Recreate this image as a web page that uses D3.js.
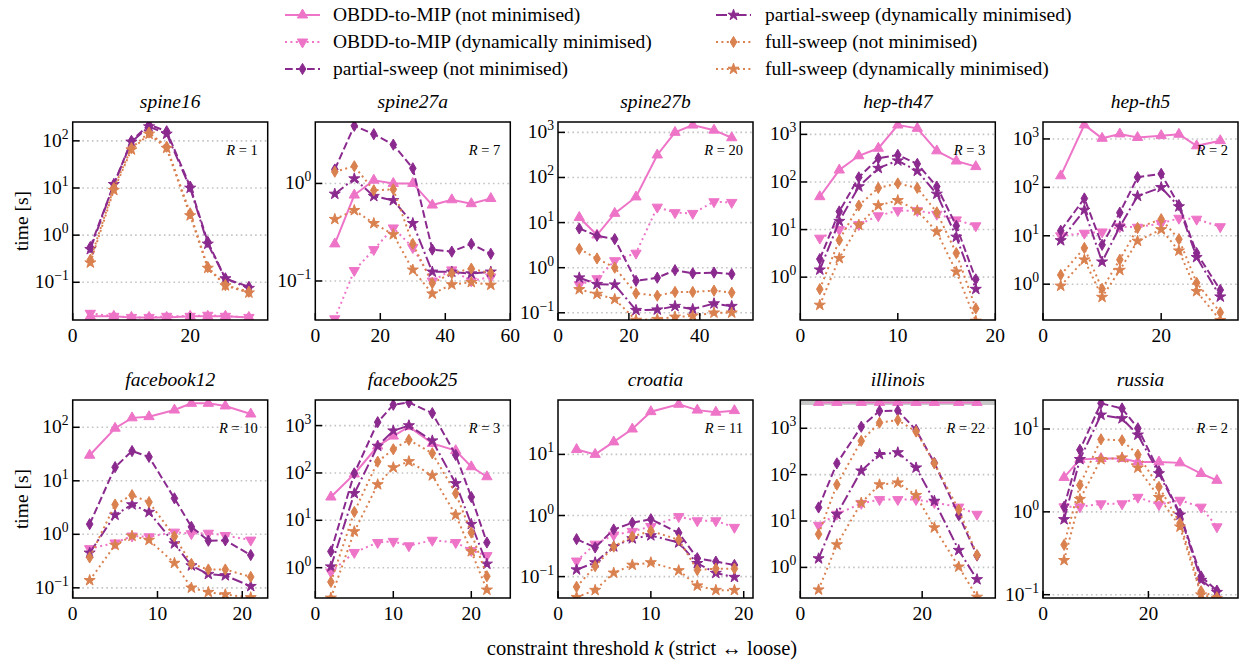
<!DOCTYPE html>
<html>
<head>
<meta charset="utf-8">
<script src="https://cdnjs.cloudflare.com/ajax/libs/d3/7.8.5/d3.min.js"></script>
<style>
  body { margin: 0; background: #fff; }
  svg text { font-family: "Liberation Serif", "DejaVu Serif", serif; fill: #000; }
</style>
</head>
<body>
<svg id="chart" width="1244" height="663"></svg>
<script>
// --- data ---------------------------------------------------------------
const instances = ['spine16', 'spine27a', 'spine27b', 'hep-th47', 'hep-th5',
                   'facebook12', 'facebook25', 'croatia', 'illinois', 'russia']
const rValues = [1, 7, 20, 3, 2, 10, 3, 11, 22, 2]
const kValues = [
  [3, 7, 10, 13, 16, 20, 23, 26, 30],
  [6, 12, 18, 24, 30, 36, 42, 48, 54],
  [6, 11, 16, 22, 28, 33, 38, 44, 49],
  [2, 4, 6, 8, 10, 12, 14, 16, 18],
  [3, 7, 10, 13, 16, 20, 23, 26, 30],
  [2, 5, 7, 9, 12, 14, 16, 18, 21],
  [2, 5, 8, 10, 12, 15, 18, 20, 22],
  [2, 4, 6, 8, 10, 13, 15, 17, 19],
  [3, 6, 10, 13, 16, 19, 22, 26, 29],
  [4, 7, 11, 15, 18, 22, 26, 30, 33]]
const xMax = [33.2, 60, 55, 20, 33, 23, 25, 21, 32, 37]
const xTicks = [[0, 20], [0, 20, 40, 60], [0, 20, 40], [0, 10, 20], [0, 20],
                [0, 10, 20], [0, 10, 20], [0, 10, 20], [0, 20], [0, 20]]
// log10 of the y limits
const yLimits = [[-1.8, 2.4], [-1.4, 0.63], [-1.16, 3.23], [-0.9, 3.26], [-0.74, 3.35],
                 [-1.19, 2.51], [-0.64, 3.54], [-1.35, 1.89], [-0.66, 3.61], [-1.04, 1.35]]
const timeout = 3600

const obddNot = [
  [0.019, 0.019, 0.018, 0.018, 0.018, 0.019, 0.019, 0.019, 0.018],
  [0.24, 0.76, 1.08, 1.0, 1.0, 0.6, 0.68, 0.62, 0.70],
  [13, 5.3, 16, 37, 315, 1000, 1450, 1120, 760],
  [49, 178, 355, 510, 1570, 1340, 450, 275, 210],
  [173, 1950, 1030, 1270, 1070, 1170, 1250, 720, 920],
  [30, 96, 150, 158, 210, 280, 280, 250, 177],
  [31, 95, 370, 600, 950, 420, 296, 135, 83],
  [12, 10, 16, 26, 50, 66, 53, 49, 52],
  [3600, 3600, 3600, 3600, 3600, 3600, 3600, 3600, 3600],
  [2.6, 4.3, 4.4, 4.4, 4.0, 4.0, 3.9, 2.9, 2.4]]
const obddDyn = [
  [0.022, 0.019, 0.018, 0.018, 0.019, 0.019, 0.02, 0.019, 0.018],
  [0.041, 0.128, 0.21, 0.35, 0.22, 0.1, 0.13, 0.1, 0.11],
  [0.42, 0.57, 1.43, 2.1, 22, 16.6, 16, 29, 28],
  [6.6, 10, 12.7, 19.5, 25, 25, 21, 16, 12],
  [10, 11.3, 12, 15.4, 15, 18, 23, 22, 15.4],
  [0.54, 0.69, 0.93, 0.9, 1.1, 1.03, 1.05, 0.95, 0.78],
  [0.81, 2.1, 3.4, 3.6, 2.9, 3.8, 3.4, 2.3, 1.8],
  [0.18, 0.34, 0.48, 0.55, 0.66, 0.96, 0.82, 0.82, 0.64],
  [8.1, 14, 24, 29, 29, 29, 25, 20, 14],
  [1.15, 1.15, 1.25, 1.25, 1.5, 1.22, 1.38, 1.14, 0.66]]
const partialNot = [
  [0.56, 12, 100, 220, 160, 10.7, 0.72, 0.12, 0.08],
  [1.39, 3.9, 3.2, 2.5, 1.43, 0.21, 0.2, 0.24, 0.19],
  [7.4, 5.1, 4.3, 0.51, 0.6, 0.88, 0.75, 0.78, 0.72],
  [2.4, 24, 125, 315, 370, 240, 80, 12, 0.9],
  [12.7, 59, 6.5, 30, 162, 190, 43, 4.4, 0.76],
  [1.55, 18, 36, 28, 4.7, 1.38, 0.76, 0.77, 0.41],
  [2.2, 98, 1180, 2750, 3080, 1830, 240, 31, 3.4],
  [0.41, 0.3, 0.59, 0.76, 0.87, 0.52, 0.2, 0.176, 0.155],
  [19.6, 175, 1080, 2360, 2400, 920, 180, 13.4, 1.8],
  [1.15, 5.6, 20.4, 17.7, 10.2, 3.1, 0.95, 0.166, 0.112]]
const partialDyn = [
  [0.5, 12, 95, 200, 140, 10, 0.65, 0.12, 0.075],
  [0.78, 1.12, 0.74, 0.67, 0.39, 0.124, 0.124, 0.119, 0.124],
  [0.6, 0.43, 0.42, 0.114, 0.117, 0.14, 0.12, 0.16, 0.14],
  [1.43, 15, 80, 195, 280, 170, 56, 7, 0.56],
  [8, 34, 2.9, 15.4, 66, 100, 40, 3.6, 0.55],
  [0.45, 2.3, 3.6, 2.6, 0.67, 0.26, 0.18, 0.17, 0.107],
  [1.05, 37, 370, 780, 1000, 480, 60, 8.3, 1.2],
  [0.13, 0.17, 0.31, 0.42, 0.47, 0.36, 0.165, 0.114, 0.098],
  [1.55, 14, 121, 275, 300, 141, 27, 2.35, 0.55],
  [0.81, 4.3, 14.8, 13.4, 8.5, 2.9, 0.92, 0.15, 0.107]]
const fullNot = [
  [0.3, 10, 70, 150, 75, 2.9, 0.21, 0.087, 0.063],
  [1.32, 1.5, 0.85, 0.87, 0.24, 0.095, 0.12, 0.134, 0.12],
  [2.6, 1.6, 1.0, 0.27, 0.24, 0.29, 0.29, 0.31, 0.28],
  [0.56, 6, 32, 75, 93, 75, 23, 3.2, 0.22],
  [1.55, 5.6, 0.8, 3.2, 14.5, 22, 8.5, 1.07, 0.26],
  [0.37, 3.6, 5.4, 4.0, 0.91, 0.28, 0.22, 0.22, 0.16],
  [0.5, 15, 173, 316, 500, 260, 37, 5.5, 0.66],
  [0.068, 0.148, 0.31, 0.45, 0.56, 0.4, 0.128, 0.135, 0.135],
  [5.2, 61, 535, 1320, 1500, 850, 175, 17.5, 1.85],
  [0.4, 2.1, 7.5, 7.3, 4.9, 2.0, 0.73, 0.11, 0.093]]
const fullDyn = [
  [0.26, 9, 65, 140, 70, 2.6, 0.2, 0.085, 0.06],
  [0.43, 0.53, 0.39, 0.3, 0.13, 0.074, 0.092, 0.097, 0.091],
  [0.33, 0.26, 0.2, 0.069, 0.072, 0.081, 0.085, 0.1, 0.1],
  [0.26, 2.5, 12.5, 32, 41, 25, 9, 1.3, 0.12],
  [0.92, 3.2, 0.54, 1.95, 7.8, 13.5, 4.9, 0.71, 0.18],
  [0.138, 0.63, 0.93, 0.78, 0.29, 0.1, 0.083, 0.075, 0.066],
  [0.23, 5.8, 57, 130, 175, 88, 13, 2.2, 0.34],
  [0.046, 0.06, 0.115, 0.155, 0.17, 0.126, 0.071, 0.06, 0.06],
  [0.33, 3.1, 24.6, 61, 67, 36, 7.2, 1.03, 0.23],
  [0.26, 1.42, 4.3, 4.5, 3.4, 1.5, 0.66, 0.1, 0.09]]

// --- styling ----------------------------------------------------------------
const pink = '#ee74c8', purple = '#8b2a8e', orange = '#da8150'
const dotted = '2,3.4', dashed = '7.7,3.3', dashdot = '11,3.3,2,3.3'
const series = [
  { label: 'OBDD-to-MIP (not minimised)',           values: obddNot,    color: pink,   dash: null,    marker: 'up' },
  { label: 'OBDD-to-MIP (dynamically minimised)',   values: obddDyn,    color: pink,   dash: dotted,  marker: 'down' },
  { label: 'partial-sweep (not minimised)',         values: partialNot, color: purple, dash: dashed,  marker: 'diamond' },
  { label: 'partial-sweep (dynamically minimised)', values: partialDyn, color: purple, dash: dashdot, marker: 'star' },
  { label: 'full-sweep (not minimised)',            values: fullNot,    color: orange, dash: dotted,  marker: 'diamond' },
  { label: 'full-sweep (dynamically minimised)',    values: fullDyn,    color: orange, dash: dotted,  marker: 'star' }]

const colX = [72.7, 315.3, 558, 800.3, 1043], rowY = [122, 400], pw = 195, ph = 198
const fs = 19.5

const svg = d3.select('#chart')

function _markerPath(kind) {
  if (kind === 'up' || kind === 'down') return d3.symbol(d3.symbolTriangle, 46)()
  if (kind === 'diamond') return 'M0,-5.6L3.3,0L0,5.6L-3.3,0Z'
  return d3.symbol(d3.symbolStar, 38)()
}

function _drawMarker(sel, s, px, py) {
  sel.append('path')
    .attr('d', _markerPath(s.marker))
    .attr('transform', `translate(${px},${py})` + (s.marker === 'down' ? ' rotate(180)' : ''))
    .attr('fill', s.color)
    .attr('stroke', s.color)
    .attr('stroke-width', 1)
    .attr('stroke-linejoin', 'round')
}

function _pow10(t, e) {
  t.append('tspan').text('10')
  t.append('tspan').attr('dy', -8).attr('font-size', fs * 0.7)
    .text(e < 0 ? '\u2212' + (-e) : '' + e)
}

function _panel(i) {
  let x0 = colX[i % 5], y0 = rowY[Math.floor(i / 5)],
      g  = svg.append('g').attr('transform', `translate(${x0},${y0})`),
      x  = d3.scaleLinear().domain([0, xMax[i]]).range([0, pw]),
      y  = d3.scaleLog().domain(yLimits[i].map(e => Math.pow(10, e))).range([ph, 0]),
      decades = d3.range(Math.ceil(yLimits[i][0]), Math.floor(yLimits[i][1]) + 1)

  // grid
  g.selectAll('line.grid')
    .data(decades)
    .enter()
    .append('line')
    .attr('class', 'grid')
    .attr('x1', 0).attr('x2', pw)
    .attr('y1', e => y(Math.pow(10, e))).attr('y2', e => y(Math.pow(10, e)))
    .attr('stroke', '#c4c4c4').attr('stroke-width', 1.6).attr('stroke-dasharray', '1.6,3.2')

  g.append('clipPath').attr('id', 'clip' + i)
    .append('rect').attr('width', pw).attr('height', ph)
  let plot = g.append('g').attr('clip-path', `url(#clip${i})`)

  // timeout band, only visible where the axis reaches 3600 s
  if (Math.log10(timeout) < yLimits[i][1])
    plot.append('line')
      .attr('x1', 0).attr('x2', pw)
      .attr('y1', y(timeout)).attr('y2', y(timeout))
      .attr('stroke', '#c8c8c8').attr('stroke-width', 5)

  series.forEach(s => {
    let pts = kValues[i].map((k, n) => [k, s.values[i][n]])
    plot.append('path')
      .datum(pts)
      .attr('d', d3.line().x(d => x(d[0])).y(d => y(d[1])))
      .attr('fill', 'none')
      .attr('stroke', s.color)
      .attr('stroke-width', 2)
      .attr('stroke-dasharray', s.dash)
    pts.forEach(d => _drawMarker(plot, s, x(d[0]), y(d[1])))
  })

  // frame
  g.append('rect')
    .attr('width', pw).attr('height', ph)
    .attr('fill', 'none').attr('stroke', '#000').attr('stroke-width', 1.5)

  // y ticks
  decades.forEach(e => {
    let py = y(Math.pow(10, e))
    g.append('line').attr('x1', 0).attr('x2', 7).attr('y1', py).attr('y2', py)
      .attr('stroke', '#000').attr('stroke-width', 1.5)
    let t = g.append('text').attr('x', -4).attr('y', py + 6)
      .attr('text-anchor', 'end').attr('font-size', fs)
    _pow10(t, e)
  })

  // x ticks
  xTicks[i].forEach(v => {
    let px = x(v)
    g.append('line').attr('x1', px).attr('x2', px).attr('y1', ph).attr('y2', ph - 7)
      .attr('stroke', '#000').attr('stroke-width', 1.5)
    g.append('text').attr('x', px).attr('y', ph + 22)
      .attr('text-anchor', 'middle').attr('font-size', fs).text(v)
  })

  // title and R annotation
  g.append('text').attr('x', pw / 2).attr('y', -14)
    .attr('text-anchor', 'middle').attr('font-size', fs).attr('font-style', 'italic')
    .text(instances[i])
  let r = g.append('text').attr('x', pw - 10).attr('y', 33)
    .attr('text-anchor', 'end').attr('font-size', 14.5)
  r.append('tspan').attr('font-style', 'italic').text('R')
  r.append('tspan').text(' = ' + rValues[i])

  if (i % 5 === 0)
    svg.append('text')
      .attr('transform', `translate(28,${y0 + ph / 2}) rotate(-90)`)
      .attr('text-anchor', 'middle').attr('font-size', fs)
      .text('time [s]')
}

function _legend() {
  let cols = [{ hx: 285, tx: 333 }, { hx: 716, tx: 765 }],
      rows = [15, 42, 69]
  series.forEach((s, j) => {
    let c = cols[Math.floor(j / 3)], ry = rows[j % 3],
        g = svg.append('g')
    g.append('line')
      .attr('x1', c.hx).attr('x2', c.hx + 35).attr('y1', ry).attr('y2', ry)
      .attr('stroke', s.color).attr('stroke-width', 2).attr('stroke-dasharray', s.dash)
    _drawMarker(g, s, c.hx + 17.5, ry)
    g.append('text').attr('x', c.tx).attr('y', ry + 6)
      .attr('font-size', fs).text(s.label)
  })
}

d3.range(instances.length).forEach(_panel)
_legend()

let xl = svg.append('text').attr('x', 642).attr('y', 655)
  .attr('text-anchor', 'middle').attr('font-size', 20.5)
xl.append('tspan').text('constraint threshold ')
xl.append('tspan').attr('font-style', 'italic').text('k')
xl.append('tspan').text(' (strict \u2194 loose)')
</script>
</body>
</html>
